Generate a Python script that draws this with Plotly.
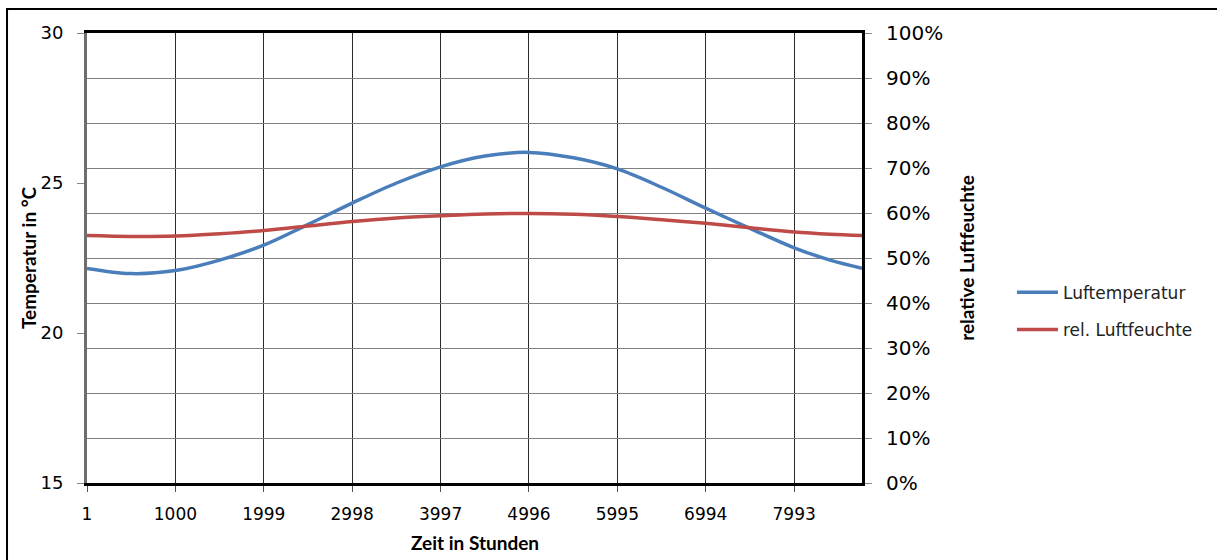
import plotly.graph_objects as go

hours = [1, 500, 1000, 1500, 1999, 2500, 2998, 3500, 3997, 4500, 4996,
         5500, 5995, 6500, 6994, 7500, 7993, 8400, 8760]
temperatur = [22.15, 21.98, 22.08, 22.43, 22.93, 23.62, 24.33, 25.0, 25.54, 25.9, 26.02,
              25.84, 25.47, 24.85, 24.16, 23.48, 22.84, 22.43, 22.16]
feuchte = [0.550, 0.548, 0.549, 0.554, 0.561, 0.571, 0.581, 0.589, 0.594, 0.598, 0.599,
           0.597, 0.592, 0.585, 0.577, 0.567, 0.558, 0.553, 0.550]
x_ticks = [1, 1000, 1999, 2998, 3997, 4996, 5995, 6994, 7993]
left_ticks = [15, 20, 25, 30]

FONT = "DejaVu Sans"
TFONT = "Lato"
fig = go.Figure()
fig.add_trace(go.Scatter(x=hours, y=temperatur, name="Luftemperatur", mode="lines",
                         line=dict(color="#4a7ebb", width=3.5, shape="spline"),
                         legendgroup="a"))
fig.add_trace(go.Scatter(x=hours, y=feuchte, name="rel. Luftfeuchte", mode="lines",
                         line=dict(color="#be4b48", width=3.5, shape="spline"),
                         yaxis="y2", legendgroup="b"))

fig.update_layout(
    width=1217, height=560,
    margin=dict(l=87, r=355, t=33, b=77),
    paper_bgcolor="white", plot_bgcolor="white",
    font=dict(family=FONT, color="#000", size=16),
    showlegend=True,
    legend=dict(x=1.1935, y=0.4627, xanchor="left", yanchor="top",
                font=dict(size=17, family=FONT, color="#222"),
                traceorder="grouped", tracegroupgap=12, itemwidth=41,
                bgcolor="rgba(0,0,0,0)"),
    xaxis=dict(range=[1, 8760], tickvals=x_ticks, ticktext=[str(v) for v in x_ticks],
               showgrid=True, gridcolor="#2a2a2a", gridwidth=1,
               showline=True, linecolor="#000", linewidth=3, mirror=True,
               ticks="outside", ticklen=6, tickcolor="#555",
               tickfont=dict(size=17, family=FONT), ticklabelstandoff=8,
               zeroline=False),
    yaxis=dict(range=[15, 30], tickvals=left_ticks, showgrid=False,
               showline=True, linecolor="#6e6e6e", linewidth=3,
               ticks="outside", ticklen=7, tickcolor="#888",
               tickfont=dict(size=18, family=FONT), ticklabelstandoff=10,
               zeroline=False),
    yaxis2=dict(range=[0, 1], dtick=0.1, tickformat=".0%", overlaying="y", side="right",
                showgrid=True, gridcolor="#808080", gridwidth=1,
                showline=True, linecolor="#000", linewidth=3,
                ticks="outside", ticklen=7, tickcolor="#888",
                tickfont=dict(size=20, family=FONT), ticklabelstandoff=10,
                zeroline=False),
    annotations=[
        dict(text="<b>Zeit in Stunden</b>", x=0.5, y=-0.133, xref="paper", yref="paper",
             xanchor="center", yanchor="middle",
             showarrow=False, font=dict(size=19, family=TFONT)),
        dict(text="<b>Temperatur in °C</b>", x=-0.076, y=0.5, xref="paper", yref="paper",
             xanchor="center", yanchor="middle",
             showarrow=False, textangle=-90, font=dict(size=19, family=TFONT)),
        dict(text="<b>relative Luftfeuchte</b>", x=1.134, y=0.5, xref="paper", yref="paper",
             xanchor="center", yanchor="middle",
             showarrow=False, textangle=-90, font=dict(size=19, family=TFONT)),
    ],
    shapes=[dict(type="rect", xref="paper", yref="paper", x0=-0.1032, x1=1.47,
                 y0=-0.2, y1=1.0533, line=dict(color="#000", width=2), layer="below")],
)

fig.write_html("out.html", config={"displayModeBar": False},
               post_script="document.body.style.margin='0px';")
